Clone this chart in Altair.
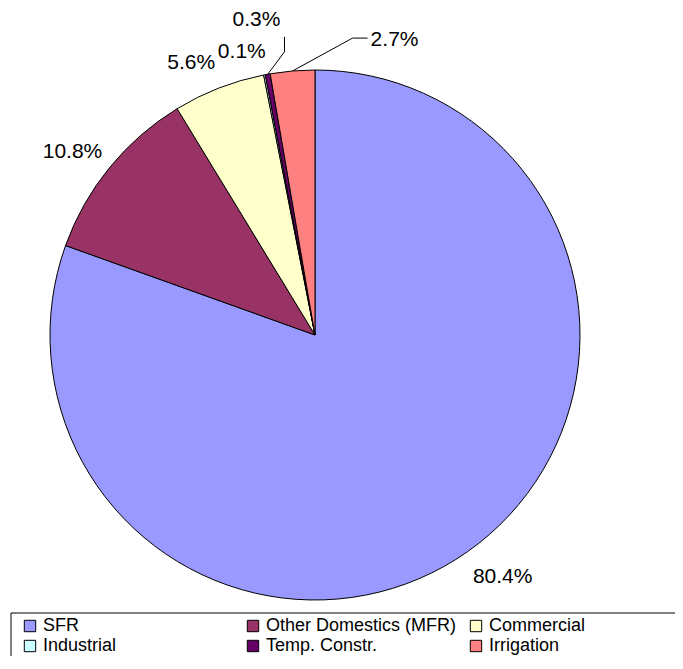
import altair as alt
import pandas as pd
import math

categories = ["SFR", "Other Domestics (MFR)", "Commercial", "Industrial", "Temp. Constr.", "Irrigation"]
values = [80.4, 10.8, 5.6, 0.1, 0.3, 2.7]
labels = ["80.4%", "10.8%", "5.6%", "0.1%", "0.3%", "2.7%"]
colors = ["#9999FF", "#993366", "#FFFFCC", "#CCFFFF", "#660066", "#FF8080"]

# layout (chart pixel coordinates)
CX, CY, R = 307, 327, 265
LABEL_R = 300
label_dx = {"80.4%": 15, "10.8%": -10, "5.6%": -15, "0.1%": -16, "0.3%": -5, "2.7%": 105}
label_dy = {"80.4%": -3, "10.8%": 7, "5.6%": 8, "0.1%": 11, "0.3%": -20, "2.7%": 4}

df = pd.DataFrame({"category": categories, "value": values, "label": labels,
                   "order": list(range(len(categories)))})
df["dx"] = df["label"].map(label_dx)
df["dy"] = df["label"].map(label_dy)

# leader lines from slice edge to label
total = sum(values)
cum = 0
mids = {}
for c, v, l in zip(categories, values, labels):
    mids[l] = (cum + v / 2) / total * 2 * math.pi
    cum += v
lead_rows = []
def pol(a, r):
    return CX + r * math.sin(a), CY - r * math.cos(a)
# 0.3%
a = mids["0.3%"]
sx, sy = pol(a, R)
lx, ly = pol(a, LABEL_R)
lx += label_dx["0.3%"]; ly += label_dy["0.3%"]
for i, (x, y) in enumerate([(sx, sy), (lx + 28, ly + 32), (lx + 28, ly + 17)]):
    lead_rows.append({"k": "0.3%", "i": i, "x": x, "y": y})
# 2.7%
a = mids["2.7%"]
sx, sy = pol(a, R)
lx, ly = pol(a, LABEL_R)
lx += label_dx["2.7%"]; ly += label_dy["2.7%"]
for i, (x, y) in enumerate([(sx, sy), (lx - 42, ly - 2), (lx - 27, ly - 2)]):
    lead_rows.append({"k": "2.7%", "i": i, "x": x, "y": y})
lead = pd.DataFrame(lead_rows)

color_scale = alt.Scale(domain=categories, range=colors)

pie = alt.Chart(df).mark_arc(radius=R, stroke="black", strokeWidth=1).encode(
    theta=alt.Theta("value:Q", stack=True),
    color=alt.Color("category:N", scale=color_scale, sort=categories,
                    legend=alt.Legend(title=None, orient="none", legendX=7, legendY=603,
                                      columns=3, direction="horizontal", gridAlign="all",
                                      symbolType="square", symbolSize=130,
                                      symbolStrokeColor="black", symbolStrokeWidth=1,
                                      symbolOpacity=1, symbolOffset=0,
                                      labelFont="Liberation Sans", labelFontSize=18,
                                      labelColor="black", labelLimit=400, labelOffset=4,
                                      columnPadding=10, rowPadding=2, padding=6)),
    order=alt.Order("order:Q"),
    x=alt.value(CX), y=alt.value(CY),
)

# legend frame (decoration, extends past the visible page like the reference)
frame = alt.Chart(pd.DataFrame({"f": [0]})).mark_rect(
    fill=None, fillOpacity=0, stroke="black", strokeWidth=1
).encode(x=alt.value(3), x2=alt.value(720), y=alt.value(605), y2=alt.value(720))

text = alt.Chart(df).transform_window(
    cum="sum(value)", sort=[alt.SortField("order")], frame=[None, 0]
).transform_joinaggregate(
    tot="sum(value)"
).transform_calculate(
    mid="(datum.cum - datum.value/2) / datum.tot * 2 * PI"
).transform_calculate(
    px=f"{CX} + {LABEL_R} * sin(datum.mid) + datum.dx",
    py=f"{CY} - {LABEL_R} * cos(datum.mid) + datum.dy",
).mark_text(font="Liberation Sans", fontSize=21, color="black", baseline="middle", align="center").encode(
    x=alt.X("px:Q", scale=None), y=alt.Y("py:Q", scale=None), text="label:N"
)

leaders = alt.Chart(lead).mark_line(color="black", strokeWidth=1).encode(
    x=alt.X("x:Q", scale=None), y=alt.Y("y:Q", scale=None),
    detail="k:N", order="i:Q"
)

chart = alt.layer(pie, leaders, text, frame).properties(
    width=667, height=648, padding=0, autosize=alt.AutoSizeParams(type="none")
).configure(background="white").configure_view(stroke=None)

chart.save("out.html", embed_options={"renderer": "svg", "actions": False})
